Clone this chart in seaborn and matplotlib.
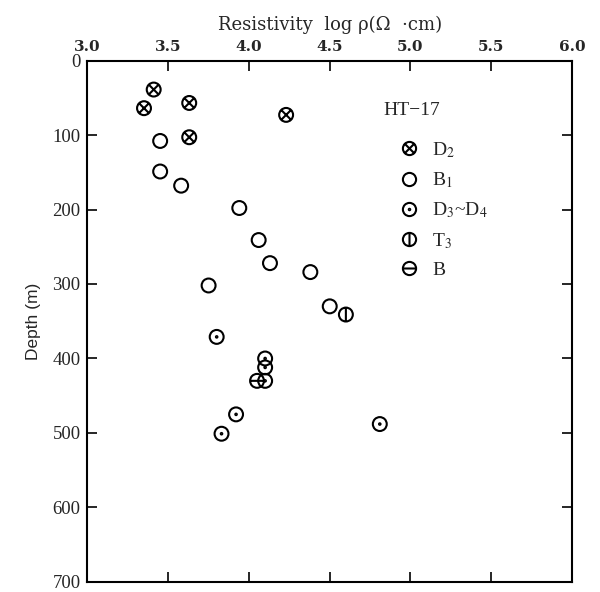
import numpy as np
import pandas as pd
import matplotlib
matplotlib.use("Agg")
import matplotlib.pyplot as plt
from matplotlib.path import Path
from matplotlib.lines import Line2D
import seaborn as sns

# ---- data ----
d2_x = [3.41, 3.35, 3.63, 4.23, 3.63]
d2_depth = [39, 64, 57, 73, 103]

b1_x = [3.45, 3.45, 3.58, 3.94, 4.06, 4.13, 4.38, 3.75, 4.50]
b1_depth = [108, 149, 168, 198, 241, 272, 284, 302, 330]

d34_x = [3.80, 4.10, 4.10, 4.10, 3.92, 3.83, 4.81]
d34_depth = [371, 400, 412, 430, 475, 501, 488]

t3_x = [4.60]
t3_depth = [341]

b_x = [4.05]
b_depth = [430]

group_keys = ["D2", "B1", "D34", "T3", "B"]
group_labels = [r"D$_2$", r"B$_1$", r"D$_3$~D$_4$", r"T$_3$", "B"]
x_ticks = [3.0, 3.5, 4.0, 4.5, 5.0, 5.5, 6.0]
y_ticks = [0, 100, 200, 300, 400, 500, 600, 700]
well_name = "HT\u221217"

# ---- marker paths ----
circle = Path.unit_circle()
c45 = np.sqrt(0.5)


def compound(*extra):
    return Path.make_compound_path(circle, *extra)


dot = Path(np.array(Path.unit_circle().vertices) * 0.11, Path.unit_circle().codes)
markers = {
    "D2": compound(Path([(-c45, -c45), (c45, c45)], [Path.MOVETO, Path.LINETO]),
                   Path([(-c45, c45), (c45, -c45)], [Path.MOVETO, Path.LINETO])),
    "B1": circle,
    "D34": compound(dot),
    "T3": compound(Path([(0, -1), (0, 1)], [Path.MOVETO, Path.LINETO])),
    "B": compound(Path([(-1, 0), (1, 0)], [Path.MOVETO, Path.LINETO])),
}

df = pd.concat([
    pd.DataFrame({"x": d2_x, "depth": d2_depth, "g": "D2"}),
    pd.DataFrame({"x": b1_x, "depth": b1_depth, "g": "B1"}),
    pd.DataFrame({"x": d34_x, "depth": d34_depth, "g": "D34"}),
    pd.DataFrame({"x": t3_x, "depth": t3_depth, "g": "T3"}),
    pd.DataFrame({"x": b_x, "depth": b_depth, "g": "B"}),
], ignore_index=True)

sns.set_style("white")
plt.rcParams["mathtext.fontset"] = "stix"
plt.rcParams["font.family"] = ["Liberation Serif", "DejaVu Serif"]

fig = plt.figure(figsize=(6.0, 5.92), dpi=100)
ax = fig.add_axes([0.1458, 0.0169, 0.9533 - 0.1458, 0.8978 - 0.0169])

MS = 10
LW = 1.5
for key in group_keys:
    sub = df[df["g"] == key]
    sns.scatterplot(data=sub, x="x", y="depth", marker=markers[key], s=MS ** 2,
                    facecolor="none", edgecolor="black", linewidth=LW,
                    ax=ax, legend=False, zorder=3)
for c in ax.collections:
    c.set_facecolor("none")
    c.set_edgecolor("black")
    c.set_linewidth(LW)

ax.set_xlim(3.0, 6.0)
ax.set_ylim(700, 0)
ax.xaxis.set_ticks_position("top")
ax.xaxis.set_label_position("top")
ax.set_xticks(x_ticks)
ax.set_xticklabels([f"{v:.1f}" for v in x_ticks], fontsize=11, fontweight="bold",
                   family=["DejaVu Serif"])
ax.set_yticks(y_ticks)
ax.set_yticklabels([str(v) for v in y_ticks], fontsize=13.5)
ax.tick_params(axis="both", direction="in", length=7, width=1.4, pad=5,
               top=True, bottom=True, left=True, right=True,
               labeltop=True, labelbottom=False, labelleft=True, labelright=False)
ax.tick_params(axis="x", pad=5)
for s in ax.spines.values():
    s.set_visible(True)
    s.set_linewidth(1.5)
    s.set_color("black")

ax.set_xlabel("Resistivity  log \u03c1(\u03a9  \u00b7cm)", fontsize=13, labelpad=7,
              family=["DejaVu Serif"])
ax.set_ylabel("Depth (m)", fontsize=12.5,
              family=["Liberation Sans Narrow", "Liberation Sans", "DejaVu Sans"], labelpad=8)

ax.text(0.61, 0.905, well_name, transform=ax.transAxes, ha="left", va="center",
        fontsize=14)

handles = [Line2D([], [], linestyle="none", marker=markers[k], markersize=MS * 0.95,
                  markerfacecolor="none", markeredgecolor="black", markeredgewidth=LW)
           for k in group_keys]
leg = ax.legend(handles, group_labels, frameon=False,
                loc="upper left", bbox_to_anchor=(0.64, 0.8476),
                fontsize=14, handletextpad=0.57,
                labelspacing=0.55, handlelength=1.2, borderpad=0, borderaxespad=0)

fig.savefig("out.png", dpi=100)
